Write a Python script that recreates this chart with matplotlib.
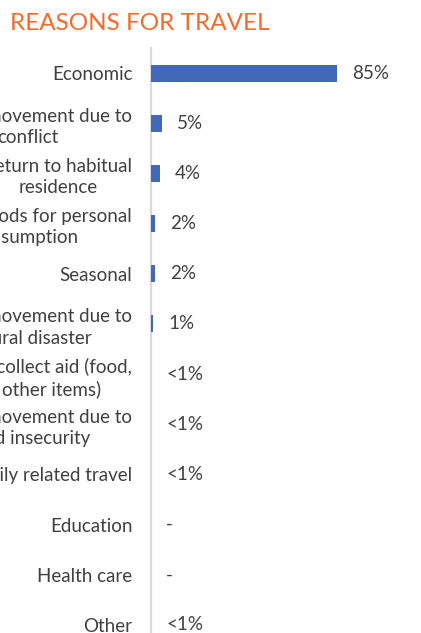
import matplotlib
matplotlib.use("Agg")
import matplotlib.pyplot as plt

plt.rcParams['font.family'] = ['Lato', 'DejaVu Sans']

# reasons for travel, top to bottom
categories = [
    "Economic",
    "Forced movement due to\nconflict",
    "Return to habitual\nresidence",
    "Buying goods for personal\nconsumption",
    "Seasonal",
    "Forced movement due to\nnatural disaster",
    "To collect aid (food,\nother items)",
    "Forced movement due to\nfood insecurity",
    "Family related travel",
    "Education",
    "Health care",
    "Other",
]
values = [85, 5, 4, 2, 2, 1, 0, 0, 0, 0, 0, 0]
value_labels = ["85%", "5%", "4%", "2%", "2%", "1%", "<1%", "<1%", "<1%", "-", "-", "<1%"]

W, H = 421, 633
fig = plt.figure(figsize=(W / 100, H / 100), dpi=100)

# axes placed in pixel terms; bottom runs past the figure edge like the cropped original
left, right, top, bottom = 151, 370, 48, 650
ax = fig.add_axes([left / W, 1 - bottom / H, (right - left) / W, (bottom - top) / H])

ypos = list(range(len(categories)))
ax.barh(ypos, values, height=0.34, color="#4268B8", zorder=3)
ax.set_xlim(0, 100)
ax.set_ylim(len(categories) - 0.5, -0.5)

txt_col = "#404040"
for y, v, lab in zip(ypos, values, value_labels):
    ax.text(v + 6.9, y, lab, va="center", ha="left", fontsize=13.5, color=txt_col)

ax.set_yticks(ypos)
ax.set_yticklabels(categories, fontsize=13.5, color=txt_col)
for t in ax.get_yticklabels():
    t.set_multialignment("center")
    t.set_linespacing(1.3)
ax.tick_params(axis="y", length=0, pad=13.5)
ax.set_xticks([])

for s in ["top", "right", "bottom"]:
    ax.spines[s].set_visible(False)
ax.spines["left"].set_color("#D9D9D9")
ax.spines["left"].set_linewidth(1.6)
ax.spines["left"].set_zorder(1)

fig.text(10 / W, 1 - 30 / H, "REASONS FOR TRAVEL", fontsize=17.5, color="#F7692B",
         ha="left", va="baseline")

fig.savefig("out.png", dpi=100)
